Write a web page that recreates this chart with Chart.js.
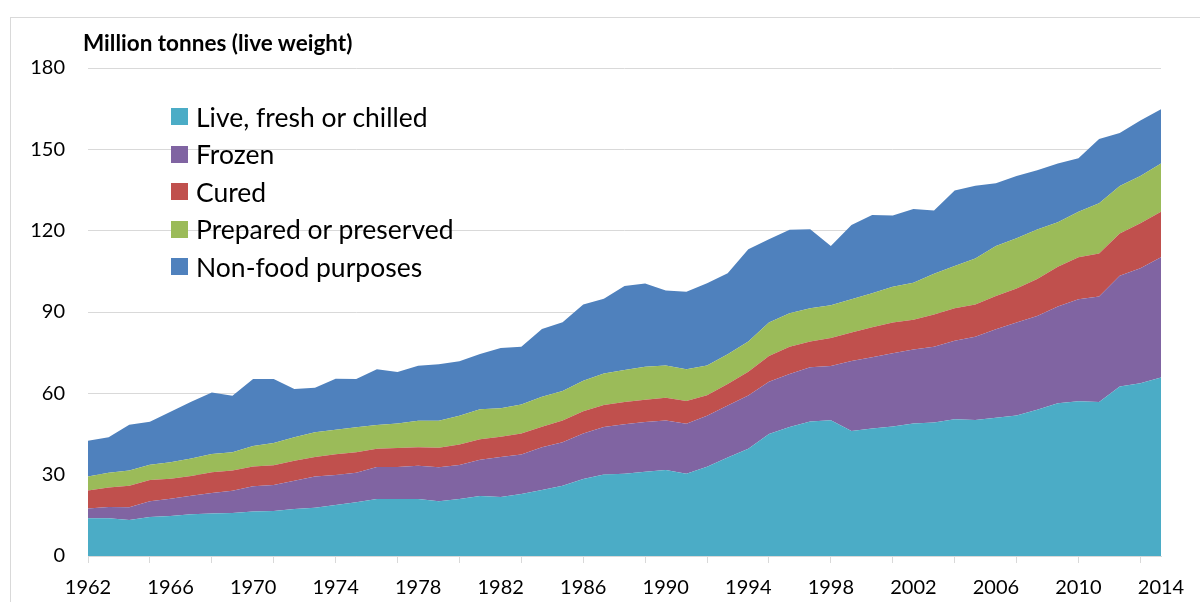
<!DOCTYPE html>
<html>
<head>
<meta charset="utf-8">
<script src="https://cdn.jsdelivr.net/npm/chart.js@4"></script>
<style>
  html, body { margin: 0; padding: 0; background: #fff; overflow: hidden; }
  #wrap { position: relative; width: 1200px; height: 602px; font-family: Lato, 'Open Sans', sans-serif; }
  #frame { position: absolute; left: 10px; top: 17px; width: 1200px; height: 620px; border: 1px solid #d9d9d9; box-sizing: border-box; }
  #chart { position: absolute; left: 0; top: 0; }
  #unit { position: absolute; left: 83px; top: 29px; font-size: 22.5px; font-weight: 700; color: #000; line-height: 28px; white-space: nowrap; }
  #legend { position: absolute; left: 171px; top: 98px; }
  .item { height: 37.5px; display: flex; align-items: center; font-size: 26.5px; color: #000; white-space: nowrap; }
  .box { width: 17px; height: 17px; margin-right: 8px; flex: none; }
</style>
</head>
<body>
<div id="wrap">
  <div id="frame"></div>
  <canvas id="chart" width="1200" height="602"></canvas>
  <div id="unit">Million tonnes (live weight)</div>
  <div id="legend"></div>
</div>
<script>
const years = ['1962','1963','1964','1965','1966','1967','1968','1969','1970','1971',
  '1972','1973','1974','1975','1976','1977','1978','1979','1980','1981',
  '1982','1983','1984','1985','1986','1987','1988','1989','1990','1991',
  '1992','1993','1994','1995','1996','1997','1998','1999','2000','2001',
  '2002','2003','2004','2005','2006','2007','2008','2009','2010','2011',
  '2012','2013','2014'];

const liveFresh = [13.9, 13.9, 13.3, 14.4, 14.8, 15.4, 15.7, 15.9, 16.4, 16.6,
  17.3, 17.8, 18.8, 19.8, 21.0, 21.0, 21.0, 20.2, 21.0, 22.1,
  21.8, 22.9, 24.3, 25.9, 28.4, 30.1, 30.3, 31.1, 31.7, 30.3,
  32.9, 36.3, 39.6, 45.0, 47.6, 49.6, 50.1, 46.1, 47.0, 47.8,
  48.9, 49.2, 50.4, 50.2, 51.0, 51.8, 53.9, 56.3, 57.1, 56.8,
  62.5, 63.7, 65.8];
const frozen = [3.6, 4.2, 4.7, 5.8, 6.3, 6.8, 7.5, 8.2, 9.3, 9.6,
  10.5, 11.5, 11.1, 10.9, 11.8, 11.8, 12.3, 12.5, 12.6, 13.4,
  14.7, 14.5, 15.8, 16.1, 16.8, 17.5, 18.3, 18.3, 18.3, 18.5,
  18.8, 19.2, 19.6, 19.3, 19.5, 20.0, 20.0, 25.8, 26.3, 27.0,
  27.3, 28.0, 29.0, 30.7, 32.6, 34.3, 34.6, 35.7, 37.6, 38.9,
  40.9, 42.4, 44.4];
const cured = [6.7, 7.2, 7.9, 7.8, 7.4, 7.3, 7.7, 7.4, 7.3, 7.3,
  7.3, 7.2, 7.6, 7.6, 6.8, 7.0, 6.8, 7.2, 7.5, 7.6,
  7.5, 7.8, 7.6, 8.0, 8.2, 8.1, 8.2, 8.2, 8.4, 8.4,
  7.6, 7.9, 8.8, 9.5, 10.1, 9.5, 10.3, 10.5, 11.1, 11.3,
  10.9, 11.9, 12.0, 11.9, 12.3, 12.6, 13.7, 14.7, 15.5, 15.9,
  15.6, 16.6, 16.8];
const prepared = [5.1, 5.4, 5.6, 5.7, 6.1, 6.5, 6.7, 6.8, 7.6, 8.2,
  8.7, 9.1, 9.1, 9.2, 8.7, 9.1, 9.8, 10.0, 10.6, 11.0,
  10.5, 10.7, 11.0, 10.9, 11.2, 11.6, 11.8, 12.2, 11.9, 11.7,
  11.0, 11.0, 11.1, 12.3, 12.3, 12.3, 12.1, 12.3, 12.5, 13.2,
  13.7, 15.0, 15.6, 16.9, 18.4, 18.5, 18.2, 16.4, 16.8, 18.5,
  17.5, 17.5, 17.8];
const nonFood = [13.2, 13.1, 16.9, 15.8, 18.6, 20.9, 22.7, 20.8, 24.7, 23.6,
  17.8, 16.5, 18.8, 17.8, 20.6, 19.0, 20.3, 20.8, 20.1, 20.4,
  22.2, 21.3, 25.0, 25.3, 28.2, 27.6, 31.0, 30.7, 27.6, 28.6,
  30.3, 29.9, 34.0, 30.7, 30.8, 29.1, 21.8, 27.4, 28.9, 26.3,
  27.2, 23.3, 27.8, 26.9, 23.2, 23.0, 21.9, 21.7, 19.7, 23.7,
  19.5, 20.4, 20.0];

const seriesNames = ['Live, fresh or chilled', 'Frozen', 'Cured', 'Prepared or preserved', 'Non-food purposes'];
const seriesColors = ['#4bacc6', '#8064a2', '#c0504d', '#9bbb59', '#4f81bd'];
const seriesValues = [liveFresh, frozen, cured, prepared, nonFood];

const yTicks = [0, 30, 60, 90, 120, 150, 180];

// legend as html, drawn inside plot area like the original
const legendEl = document.getElementById('legend');
seriesNames.forEach((name, i) => {
  const row = document.createElement('div');
  row.className = 'item';
  const box = document.createElement('span');
  box.className = 'box';
  box.style.background = seriesColors[i];
  row.appendChild(box);
  row.appendChild(document.createTextNode(name));
  legendEl.appendChild(row);
});

Chart.defaults.font.family = 'Lato, "Open Sans", sans-serif';
Chart.defaults.color = '#000';

const ctx = document.getElementById('chart').getContext('2d');
new Chart(ctx, {
  type: 'line',
  data: {
    labels: years,
    datasets: seriesValues.map((vals, i) => ({
      label: seriesNames[i],
      data: vals,
      backgroundColor: seriesColors[i],
      borderWidth: 0,
      pointRadius: 0,
      tension: 0,
      fill: i === 0 ? 'origin' : '-1'
    }))
  },
  options: {
    responsive: false,
    animation: false,
    layout: { padding: { left: 0, right: 39, top: 68, bottom: 0 } },
    plugins: { legend: { display: false }, tooltip: { enabled: false } },
    scales: {
      x: {
        offset: false,
        border: { display: true, color: '#d9d9d9', width: 1 },
        grid: {
          drawOnChartArea: false,
          drawTicks: true,
          tickLength: 7,
          color: (c) => (c.index % 3 === 0 ? '#d9d9d9' : 'rgba(0,0,0,0)')
        },
        ticks: {
          autoSkip: false,
          maxRotation: 0,
          minRotation: 0,
          padding: 13,
          font: { size: 20 },
          callback: function (v, i) { return i % 4 === 0 ? this.getLabelForValue(v) : ''; }
        },
        afterFit: (s) => { s.height = 46; }
      },
      y: {
        stacked: true,
        min: 0,
        max: 180,
        border: { display: false },
        grid: { color: '#d9d9d9', drawTicks: false },
        afterBuildTicks: (s) => { s.ticks = yTicks.map(v => ({ value: v })); },
        ticks: { padding: 23, font: { size: 20 } },
        afterFit: (s) => { s.width = 88; }
      }
    }
  }
});
</script>
</body>
</html>
